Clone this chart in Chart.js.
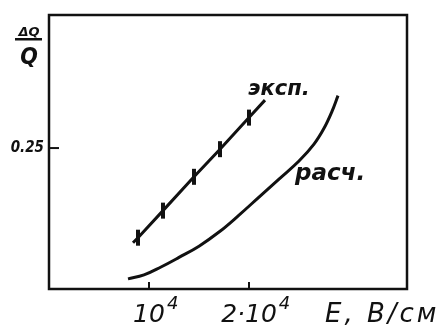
<!DOCTYPE html>
<html>
<head>
<meta charset="utf-8">
<script src="https://cdn.jsdelivr.net/npm/chart.js@4"></script>
<style>
  html, body { margin: 0; padding: 0; background: #fff; }
</style>
</head>
<body>
<canvas id="chart" width="447" height="330"></canvas>
<script>
// experiment (эксп.) - straight line with marked points
const expE = [8400, 8900, 11400, 14500, 17100, 20000, 21600]
const expQ = [0.082, 0.091, 0.139, 0.199, 0.248, 0.304, 0.335]
const expMarks = [0, 8, 8, 8, 8, 8, 0]

// calculation (расч.)
const calcE = [7900, 9500, 11200, 13000, 15000, 17000, 19000, 21000, 23000, 25000, 26500, 27500, 28300, 28900]
const calcQ = [0.018, 0.025, 0.039, 0.056, 0.076, 0.101, 0.131, 0.163, 0.195, 0.227, 0.257, 0.285, 0.315, 0.343]

const xTicks = [10000, 20000]
const xTickLabels = ["10", "2·10"]
const xTickPowers = ["4", "4"]
const yTicks = [0.25]
const yTickLabels = ["0.25"]

const ink = "#111"

function toPoints(xs, ys) {
    return xs.map((x, i) => ({ x: x, y: ys[i] }))
}

// frame, inward ticks and the hand-written labels
const decor = {
    id: "decor",
    afterDraw(chart) {
        let ctx = chart.ctx
        let a = chart.chartArea
        let sx = chart.scales.x
        let sy = chart.scales.y
        ctx.save()
        ctx.strokeStyle = ink
        ctx.fillStyle = ink
        ctx.lineWidth = 2.5
        ctx.strokeRect(a.left, a.top, a.right - a.left, a.bottom - a.top)

        ctx.lineWidth = 2
        xTicks.forEach((v, i) => {
            let px = sx.getPixelForValue(v)
            ctx.beginPath()
            ctx.moveTo(px, a.bottom)
            ctx.lineTo(px, a.bottom - 7)
            ctx.stroke()

            // label with a raised power
            ctx.font = "italic 25px 'DejaVu Sans'"
            ctx.textAlign = "center"
            ctx.textBaseline = "alphabetic"
            ctx.fillText(xTickLabels[i], px, 322)
            let w = ctx.measureText(xTickLabels[i]).width
            ctx.font = "italic 18px 'DejaVu Sans'"
            ctx.textAlign = "left"
            ctx.fillText(xTickPowers[i], px + w / 2 + 2, 309)
        })
        yTicks.forEach(v => {
            let py = sy.getPixelForValue(v)
            ctx.beginPath()
            ctx.moveTo(a.left, py)
            ctx.lineTo(a.left + 10, py)
            ctx.stroke()
        })

        // y axis title as a fraction
        ctx.textAlign = "center"
        ctx.textBaseline = "alphabetic"
        ctx.font = "italic bold 13px 'DejaVu Sans'"
        ctx.fillText("ΔQ", 29, 36)
        ctx.fillRect(15, 38, 27, 2.5)
        ctx.font = "italic bold 23px 'DejaVu Sans Condensed'"
        ctx.fillText("Q", 29, 64)

        // x axis title
        ctx.textAlign = "left"
        ctx.font = "italic 26px 'DejaVu Sans'"
        ctx.letterSpacing = "3px"
        ctx.fillText("E, В/см", 325, 322)
        ctx.letterSpacing = "0px"

        // curve labels
        ctx.font = "italic bold 21px 'DejaVu Sans'"
        ctx.fillText("эксп.", 248, 95)
        ctx.font = "italic bold 23px 'DejaVu Sans'"
        ctx.fillText("расч.", 295, 180)
        ctx.restore()
    }
}

new Chart(document.getElementById("chart").getContext("2d"), {
    "type": "line",
    "data": {
        "datasets": [
            {
                "label": "эксп.",
                "data": toPoints(expE, expQ),
                "borderColor": ink,
                "borderWidth": 3,
                "pointStyle": "line",
                "rotation": 90,
                "pointRadius": expMarks,
                "pointBorderWidth": 4,
                "pointBorderColor": ink,
                "tension": 0
            },
            {
                "label": "расч.",
                "data": toPoints(calcE, calcQ),
                "borderColor": ink,
                "borderWidth": 3,
                "pointRadius": 0,
                "tension": 0.4
            }
        ]
    },
    "options": {
        "responsive": false,
        "animation": false,
        "layout": { "padding": { "top": 15, "right": 40, "left": 0, "bottom": 0 } },
        "plugins": {
            "legend": { "display": false },
            "tooltip": { "enabled": false }
        },
        "scales": {
            "x": {
                "type": "linear",
                "min": 0,
                "max": 35800,
                "grid": { "display": false, "drawTicks": false },
                "border": { "display": false },
                "afterBuildTicks": s => { s.ticks = xTicks.map(v => ({ value: v })) },
                "afterFit": s => { s.height = 41 },
                "ticks": { "display": false }
            },
            "y": {
                "type": "linear",
                "min": 0,
                "max": 0.486,
                "grid": { "display": false, "drawTicks": false },
                "border": { "display": false },
                "afterBuildTicks": s => { s.ticks = yTicks.map(v => ({ value: v })) },
                "afterFit": s => { s.width = 49 },
                "ticks": {
                    "color": ink,
                    "padding": 5,
                    "font": { "family": "DejaVu Sans Condensed", "style": "italic", "weight": "bold", "size": 15 },
                    "callback": (v, i) => yTickLabels[i]
                }
            }
        }
    },
    "plugins": [decor]
})
</script>
</body>
</html>
